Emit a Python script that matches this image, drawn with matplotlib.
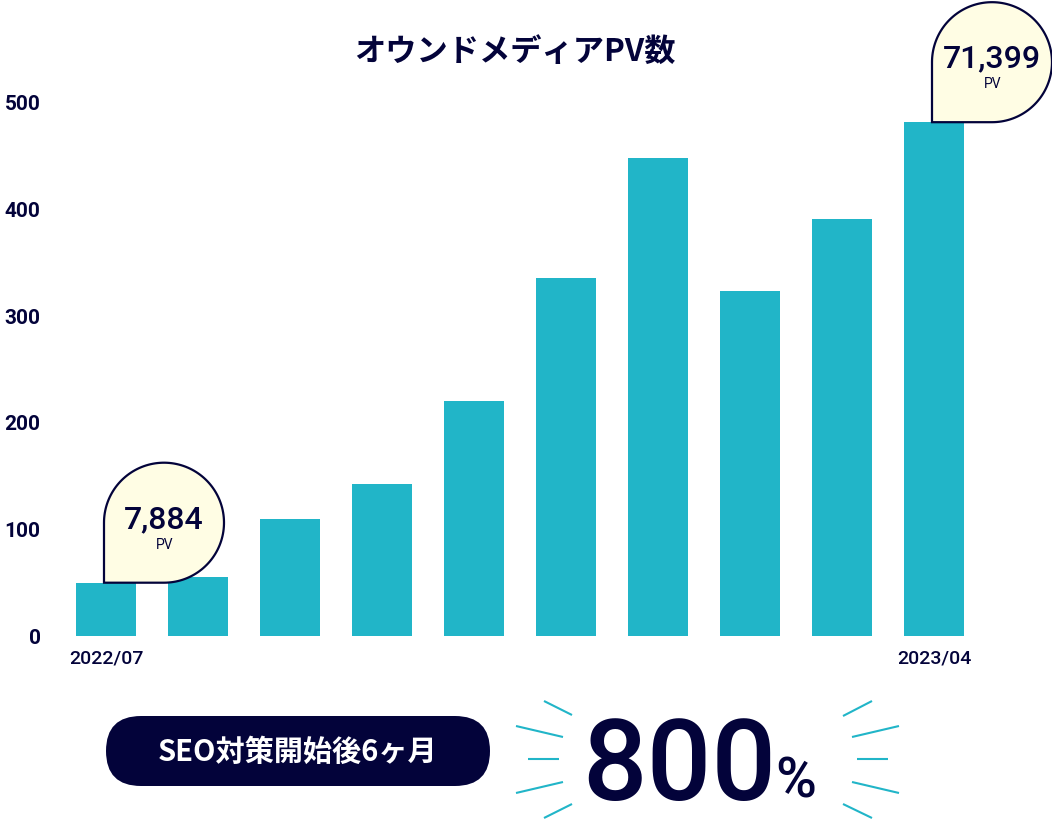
"""Owned media PV bar chart with callout bubbles and a growth badge."""

import numpy as np
import matplotlib
matplotlib.use("Agg")
import matplotlib.pyplot as plt
from matplotlib.patches import FancyBboxPatch, Polygon

# ---- data -------------------------------------------------------------
months = ["2022/07", "2022/08", "2022/09", "2022/10", "2022/11",
          "2022/12", "2023/01", "2023/02", "2023/03", "2023/04"]
pv_values = [50, 55, 110, 143, 220, 336, 448, 324, 391, 482]
y_ticks = [0, 100, 200, 300, 400, 500]
shown_labels = ["2022/07", "2023/04"]
bubble_months = ["2022/07", "2023/04"]
bubble_texts = ["7,884", "71,399"]
title_text = "オウンドメディアPV数"
badge_text = "SEO対策開始後6ヶ月"
growth_text = "800"

NAVY = "#03033a"
TEAL = "#21b5c8"
CREAM = "#fffde4"
JP = ["Noto Sans CJK JP", "DejaVu Sans"]
NUM = ["Roboto", "DejaVu Sans"]

W, H = 1052, 840
fig = plt.figure(figsize=(W / 100, H / 100), dpi=100)

# main bar axes (pixel box: x 60..980, y 103..636)
ax = fig.add_axes([60 / W, (H - 636) / H, 920 / W, 533 / H])
x = np.arange(len(months))
ax.bar(x, pv_values, width=0.66, color=TEAL, zorder=2)
ax.set_xlim(-0.5, len(months) - 0.5)
ax.set_ylim(0, 500)
ax.set_yticks(y_ticks)
ax.set_yticklabels([str(t) for t in y_ticks], fontsize=15, fontweight="bold",
                   color=NAVY, family=NUM)
ax.set_xticks(x)
ax.set_xticklabels([m if m in shown_labels else "" for m in months],
                   fontsize=14, fontweight="medium", color=NAVY, family=NUM)
ax.tick_params(axis="y", length=0, pad=14)
ax.tick_params(axis="x", length=0, pad=10)
for s in ax.spines.values():
    s.set_visible(False)
ax.patch.set_alpha(0)

# overlay in pixel coordinates (y down)
ov = fig.add_axes([0, 0, 1, 1], zorder=5)
ov.set_xlim(0, W)
ov.set_ylim(H, 0)
ov.axis("off")
ov.patch.set_alpha(0)


def to_px(xv, yv):
    dx, dy = ax.transData.transform((xv, yv))
    return dx, H - dy


ov.text(515, 52, title_text, ha="center", va="center", fontsize=22.5,
        fontweight="bold", color=NAVY, family=JP)

# callout bubbles anchored at bar tops
r = 60
for m, label in zip(bubble_months, bubble_texts):
    i = months.index(m)
    x0, y0 = to_px(i, pv_values[i])
    x0 -= 2
    cx, cy = x0 + r, y0 - r
    th = np.radians(np.linspace(180, -90, 120))
    pts = [(x0, y0)] + [(cx + r * np.cos(t), cy - r * np.sin(t)) for t in th]
    ov.add_patch(Polygon(pts, closed=True, facecolor=CREAM, edgecolor=NAVY,
                         linewidth=1.6, zorder=3))
    ov.text(cx, cy - 3, label, ha="center", va="center", fontsize=23,
            fontweight="medium", color=NAVY, family=NUM, zorder=4)
    ov.text(cx + 1, cy + 22, "PV", ha="center", va="center", fontsize=10,
            color=NAVY, family=NUM, zorder=4)

# badge
ov.add_patch(FancyBboxPatch((106, 716), 384, 70,
                            boxstyle="round,pad=0,rounding_size=35",
                            facecolor=NAVY, edgecolor="none"))
ov.text(298, 752, badge_text, ha="center", va="center", fontsize=21,
        fontweight="bold", color="white", family=JP)

# big growth figure
ov.text(679, 800, growth_text, ha="center", va="baseline", fontsize=82,
        fontweight="medium", color=NAVY, family=NUM)
ov.text(796, 797, "%", ha="center", va="baseline", fontsize=40,
        fontweight="medium", color=NAVY, family=NUM)

# speed lines
left_lines = [((544, 701), (572, 715)), ((516, 726), (563, 737)),
              ((528, 759), (559, 759)), ((516, 793), (563, 782)),
              ((544, 818), (572, 804))]
right_lines = [((843, 716), (872, 701)), ((852, 737), (899, 726)),
               ((857, 759), (888, 759)), ((852, 782), (899, 793)),
               ((843, 804), (872, 818))]
for (a, b) in left_lines + right_lines:
    ov.plot([a[0], b[0]], [a[1], b[1]], color=TEAL, linewidth=1.5,
            solid_capstyle="butt")

fig.savefig("out.png", dpi=100)
